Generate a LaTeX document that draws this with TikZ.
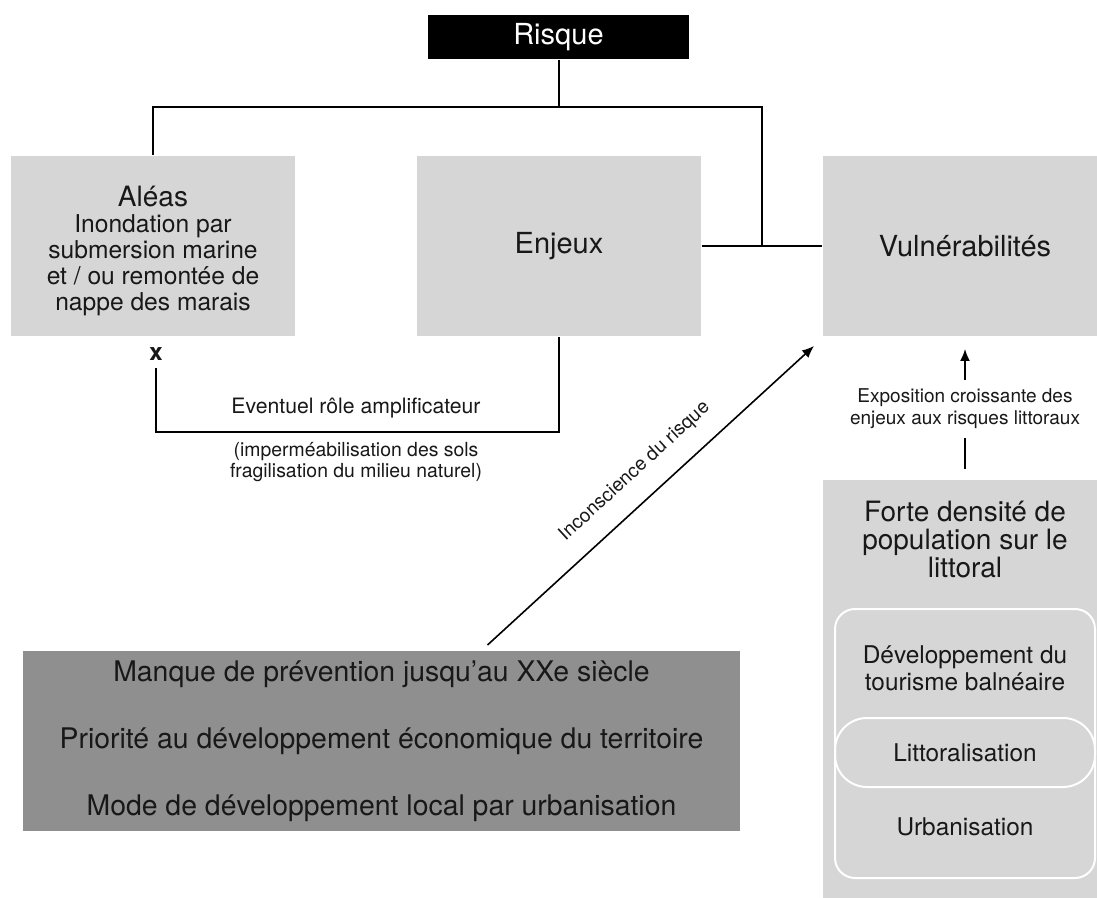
\documentclass[tikz,border=0pt]{standalone}
\usepackage{fontspec}
\setmainfont{TeX Gyre Heros}
\usetikzlibrary{arrows.meta,calc}
\definecolor{boxgray}{RGB}{214,214,214}
\definecolor{shadegray}{RGB}{143,143,143}
\definecolor{inkgray}{RGB}{24,24,24}

\begin{document}
\begin{tikzpicture}[x=0.5pt, y=-0.5pt, line width=1pt, text=inkgray,
    font=\fontsize{14.5}{16}\selectfont,
    box/.style={fill=boxgray, minimum width=142pt, minimum height=90pt, inner sep=0pt},
    zone/.style={draw=white, line width=1pt, minimum width=130pt, inner sep=0pt},
    note/.style={align=center, font=\fontsize{9.7}{10.5}\selectfont},
    arrow/.style={-{Latex[length=6pt,width=5pt]}, line width=0.8pt}]
    \path[use as bounding box] (0,0) rectangle (1097,898);
    \clip (0,0) rectangle (1097,898);

    \node[fill=black, text=white, minimum width=130.5pt, minimum height=22pt, font=\fontsize{14.5}{16}\selectfont] (risque) at (558.5,37) {Risque};
    \node[box] (aleas) at (153,246) {};
    \node[font=\fontsize{14}{16}\selectfont] (aleasT) at (153,197) {Aléas};
    \node[align=center, font=\fontsize{12.3}{13}\selectfont] (aleasD) at (153,265) {Inondation par\\submersion marine\\et / ou remontée de\\nappe des marais};
    \node[box] (enjeux) at (559,246) {Enjeux};
    \node[box] (vuln) at (965,246) {Vulnérabilités};

    \node[font=\fontsize{12}{13}\bfseries] (cross) at (156,354) {x};
    \node[note, font=\fontsize{10.6}{10.5}\selectfont] (ampl) at (356,408) {Eventuel rôle amplificateur};
    \node[note] (sols) at (356,462) {(imperméabilisation des sols\\fragilisation du milieu naturel)};

    \node[fill=shadegray, minimum width=358.5pt, minimum height=90pt, align=center, font=\fontsize{14.2}{33.5}\selectfont] (manque) at (381.5,741) {Manque de prévention jusqu’au XXe siècle\\Priorité au développement économique du territoire\\Mode de développement local par urbanisation};

    \node[box, minimum height=215pt] (densite) at (965,695) {};
    \node[align=center, font=\fontsize{14}{14}\selectfont] (forte) at (965,540) {Forte densité de\\population sur le\\littoral};
    \node[zone, minimum height=134.5pt, rounded corners=10pt] (zones) at (965,743.5) {};
    \node[zone, minimum height=34.5pt, rounded corners=16pt, font=\fontsize{12.2}{13}\selectfont] (littoral) at (965,752.5) {Littoralisation};
    \node[align=center, font=\fontsize{12.2}{13.5}\selectfont] (tourisme) at (965,668) {Développement du\\tourisme balnéaire};
    \node[font=\fontsize{12.2}{13}\selectfont] (urba) at (965,827) {Urbanisation};
    \node[note, font=\fontsize{9.5}{11}\selectfont, inner ysep=4pt] (expo) at (965,409) {Exposition croissante des\\enjeux aux risques littoraux};

    \coordinate (hub) at (762,107);
    \coordinate (amp) at (356,432);
    \coordinate (incStart) at ($(manque.north)+(106,-5)$);
    \coordinate (incEnd) at ($(vuln.south west)+(-8,9)$);

    \draw (risque.south) -- (risque.south |- hub);
    \draw (aleas.north) |- (hub) -- (hub |- enjeux.east);
    \draw (enjeux.east) -- (vuln.west);
    \draw (cross.south) |- (amp) -| (enjeux.south);
    \draw[arrow] (incStart) -- (incEnd) node[pos=0.51, sloped, above=6pt, font=\fontsize{9.6}{11}\selectfont] (inco) {Inconscience du risque};
    \draw[arrow] (expo.north) -- ($(vuln.south)+(0,12)$);
    \draw (expo.south) -- ($(densite.north)+(0,-10)$);
  \end{tikzpicture}
\end{document}
